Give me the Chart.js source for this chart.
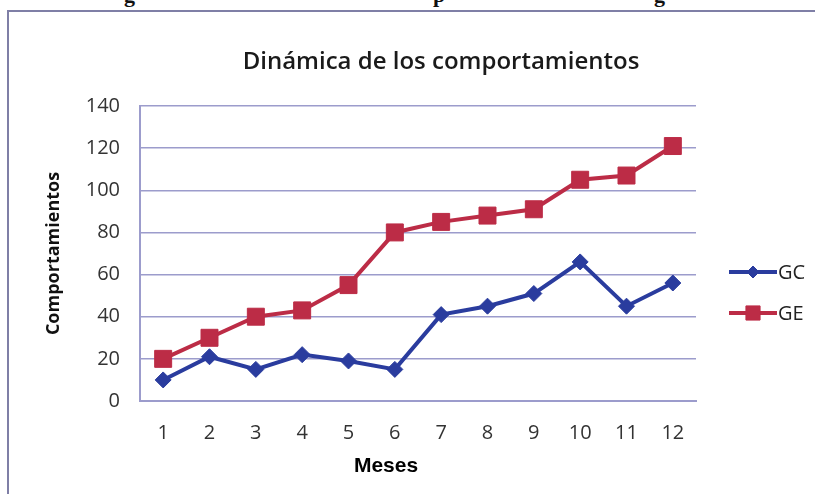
<!DOCTYPE html>
<html>
<head>
<meta charset="utf-8">
<script src="https://cdn.jsdelivr.net/npm/chart.js@4"></script>
<style>
  body { margin: 0; background: #fff; overflow: hidden; }
  #wrap { position: relative; width: 815px; height: 494px; overflow: hidden; }
  #frame { position: absolute; left: 7px; top: 10px; width: 900px; height: 600px;
           border: 2px solid #7f7fa6; box-sizing: border-box; }
  .cap { position: absolute; top: -18px; font: bold 22px "Liberation Serif", serif; color: #111; }
  canvas { position: absolute; left: 0; top: 0; }
</style>
</head>
<body>
<div id="wrap">
  <div id="frame"></div>
  <span class="cap" style="left:124px">g</span>
  <span class="cap" style="left:433px">p</span>
  <span class="cap" style="left:654px">g</span>
  <canvas id="chart" width="815" height="494"></canvas>
</div>
<script>
// chart data
const months = ['1', '2', '3', '4', '5', '6', '7', '8', '9', '10', '11', '12'];
const gcValues = [10, 21, 15, 22, 19, 15, 41, 45, 51, 66, 45, 56];
const geValues = [20, 30, 40, 43, 55, 80, 85, 88, 91, 105, 107, 121];
const seriesNames = ['GC', 'GE'];
const chartTitle = 'Dinámica de los comportamientos';

const blue = '#2a3c9e';
const red = '#bc2c46';
const gridColor = '#9c9ccc';

// title, legend (line + marker) and x title drawn by hand
const extras = {
    id: 'extras',
    afterDraw(chart) {
        const ctx = chart.ctx;

        ctx.save();
        ctx.fillStyle = '#1a1a1a';
        ctx.font = '600 24px "Open Sans"';
        ctx.textAlign = 'center';
        ctx.textBaseline = 'middle';
        ctx.fillText(chartTitle, 441, 62);
        ctx.restore();

        const rows = [272, 313];
        const legendRadius = [6, 10];
        chart.data.datasets.forEach((ds, i) => {
            const y = rows[i];
            ctx.save();
            ctx.strokeStyle = ds.borderColor;
            ctx.fillStyle = ds.backgroundColor;
            ctx.lineWidth = 4;
            ctx.beginPath();
            ctx.moveTo(729, y);
            ctx.lineTo(777, y);
            ctx.stroke();
            ctx.lineWidth = 1;
            Chart.helpers.drawPoint(ctx, {
                pointStyle: ds.pointStyle,
                radius: legendRadius[i],
                borderWidth: 1
            }, 753, y);
            ctx.fillStyle = '#222';
            ctx.font = '20px "Open Sans"';
            ctx.textBaseline = 'middle';
            ctx.fillText(ds.label, 778, y + 1);
            ctx.restore();
        });

        // x axis title, sits a bit left of centre
        ctx.save();
        ctx.fillStyle = '#000';
        ctx.font = 'bold 21px "Liberation Sans"';
        ctx.textAlign = 'center';
        ctx.textBaseline = 'middle';
        ctx.fillText('Meses', 386, 466);
        ctx.restore();
    }
};

const ctx = document.getElementById('chart').getContext('2d');
new Chart(ctx, {
    type: 'line',
    data: {
        labels: months,
        datasets: [
            {
                label: seriesNames[0],
                data: gcValues,
                borderColor: blue,
                backgroundColor: blue,
                borderWidth: 4,
                pointStyle: 'rectRot',
                pointRadius: 8,
                pointBorderWidth: 1,
                tension: 0
            },
            {
                label: seriesNames[1],
                data: geValues,
                borderColor: red,
                backgroundColor: red,
                borderWidth: 4,
                pointStyle: 'rect',
                pointRadius: 12,
                pointBorderWidth: 1,
                tension: 0
            }
        ]
    },
    options: {
        responsive: false,
        animation: false,
        layout: { padding: { top: 106, right: 119, bottom: 0, left: 43 } },
        plugins: {
            legend: { display: false },
            tooltip: { enabled: false },
            title: { display: false }
        },
        scales: {
            x: {
                offset: true,
                grid: { display: false, drawTicks: false },
                border: { display: true, color: gridColor, width: 2 },
                ticks: {
                    color: '#333',
                    font: { family: 'Open Sans', size: 20 },
                    padding: 20
                },
                afterFit(scale) { scale.height = 93; }
            },
            y: {
                min: 0,
                max: 140,
                grid: { color: gridColor, lineWidth: 1.5, drawTicks: false },
                border: { display: true, color: gridColor, width: 2 },
                ticks: {
                    stepSize: 20,
                    color: '#333',
                    font: { family: 'Open Sans', size: 20 },
                    padding: 20
                },
                title: {
                    display: true,
                    text: 'Comportamientos',
                    color: '#111',
                    font: { family: 'Open Sans', size: 18, weight: 'bold' },
                    padding: 0
                },
                afterFit(scale) { scale.width = 97; }
            }
        }
    },
    plugins: [extras]
});
</script>
</body>
</html>
